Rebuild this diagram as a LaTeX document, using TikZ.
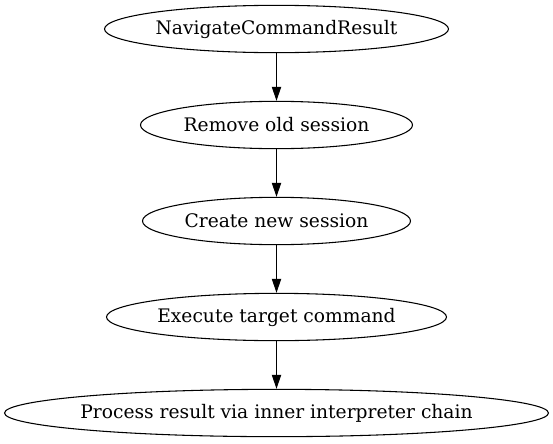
\documentclass[tikz,border=0pt]{standalone}
\usepackage{fontspec}
\setmainfont{DejaVu Serif}
\usetikzlibrary{shapes.geometric,arrows.meta}
\begin{document}
\begin{tikzpicture}[x=0.75pt,y=-0.75pt,
  gnode/.style={draw,ellipse,inner ysep=0pt,inner xsep=-60pt,minimum height=35.5pt,line width=0.8pt,font=\fontsize{14}{16}\selectfont},
  garrow/.style={-{Triangle[length=10.5pt,width=7pt]},line width=0.8pt}]
\useasboundingbox (0,0) rectangle (553,443);
\node[gnode,minimum width=258pt] (a) at (276.5,29) {NavigateCommandResult};
\node[gnode,minimum width=204pt] (b) at (276.5,125) {Remove old session};
\node[gnode,minimum width=201pt] (c) at (276.5,221) {Create new session};
\node[gnode,minimum width=255pt] (d) at (276.5,317) {Execute target command};
\node[gnode,minimum width=408pt] (e) at (276.5,413) {Process result via inner interpreter chain};
\draw[garrow] (a) -- (b);
\draw[garrow] (b) -- (c);
\draw[garrow] (c) -- (d);
\draw[garrow] (d) -- (e);
\end{tikzpicture}
\end{document}
